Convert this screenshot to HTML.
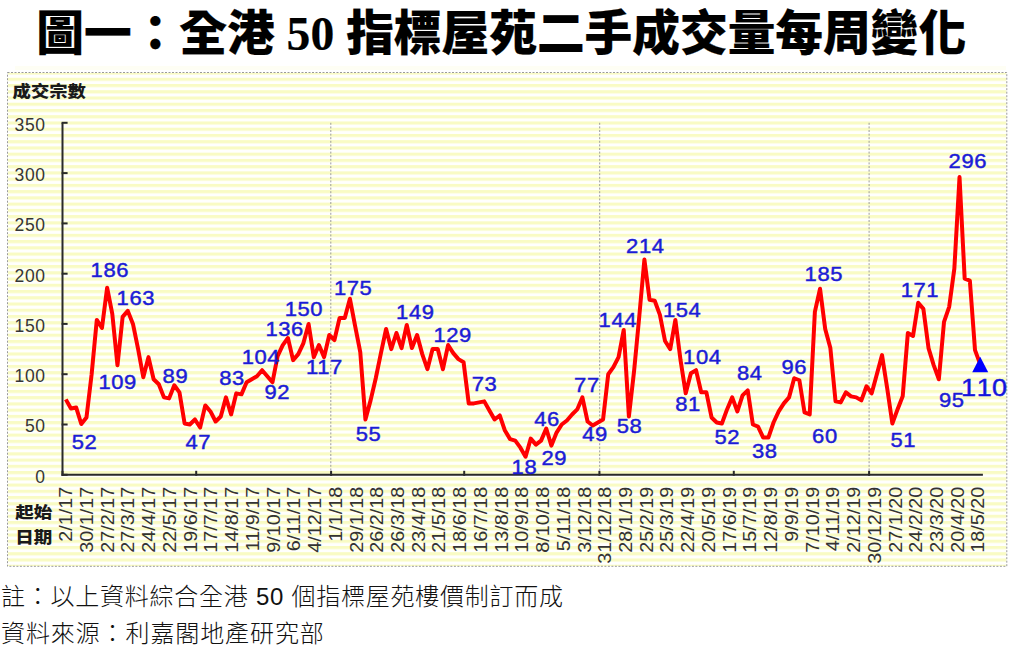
<!DOCTYPE html>
<html lang="zh-Hant"><head><meta charset="utf-8"><title>圖一：全港 50 指標屋苑二手成交量每周變化</title>
<style>
html,body{margin:0;padding:0;background:#fff;width:1024px;height:654px;overflow:hidden}
svg{display:block}
.num{font-family:'DejaVu Sans', 'Liberation Sans', sans-serif}
.lbl{font-family:'Liberation Sans',sans-serif;font-size:20.2px;letter-spacing:0.5px;fill:#1c1cd6;stroke:#1c1cd6;stroke-width:0.45px}
.cjk{font-family:'Liberation Sans', 'Noto Sans CJK TC', sans-serif}
.ttl{font-family:'Liberation Serif', 'Noto Sans CJK TC', sans-serif;font-weight:900}
</style></head><body>
<svg width="1024" height="654" viewBox="0 0 1024 654">
<defs>
<pattern id="st" patternUnits="userSpaceOnUse" x="0" y="77.74" width="16" height="6.243"><rect x="0" y="0" width="16" height="3.12" fill="#f9fbc4"/></pattern>
</defs>
<rect x="15" y="66" width="991" height="4" fill="#fefef4"/>
<rect x="7.5" y="72.5" width="999.3" height="493.8" fill="#fffffd"/>
<rect x="8" y="73" width="998.3" height="493" fill="url(#st)"/>
<rect x="7.5" y="72.5" width="999.3" height="493.8" fill="none" stroke="#9a9a9a" stroke-width="1" stroke-dasharray="2 1.5"/>
<text class="ttl" x="36.2" y="49.5" font-size="47.7" fill="#000" stroke="#000" stroke-width="0.2" stroke-linejoin="round">圖一：全港 50 指標屋苑二手成交量每周變化</text>
<text class="cjk" transform="translate(12.6,97.4) scale(1.03,0.92)" font-size="17.8" font-weight="900" fill="#1a1a1a">成交宗數</text>
<text x="45.6" y="482.6" font-family="Liberation Sans, sans-serif" font-size="17.5" letter-spacing="0.6" text-anchor="end" fill="#353535">0</text>
<text x="45.6" y="432.3" font-family="Liberation Sans, sans-serif" font-size="17.5" letter-spacing="0.6" text-anchor="end" fill="#353535">50</text>
<text x="45.6" y="382.0" font-family="Liberation Sans, sans-serif" font-size="17.5" letter-spacing="0.6" text-anchor="end" fill="#353535">100</text>
<text x="45.6" y="331.7" font-family="Liberation Sans, sans-serif" font-size="17.5" letter-spacing="0.6" text-anchor="end" fill="#353535">150</text>
<text x="45.6" y="281.5" font-family="Liberation Sans, sans-serif" font-size="17.5" letter-spacing="0.6" text-anchor="end" fill="#353535">200</text>
<text x="45.6" y="231.2" font-family="Liberation Sans, sans-serif" font-size="17.5" letter-spacing="0.6" text-anchor="end" fill="#353535">250</text>
<text x="45.6" y="180.9" font-family="Liberation Sans, sans-serif" font-size="17.5" letter-spacing="0.6" text-anchor="end" fill="#353535">300</text>
<text x="45.6" y="130.6" font-family="Liberation Sans, sans-serif" font-size="17.5" letter-spacing="0.6" text-anchor="end" fill="#353535">350</text>
<line x1="330.8" y1="122.8" x2="330.8" y2="474.8" stroke="#9c9c9c" stroke-width="1" stroke-dasharray="2 1.6"/>
<line x1="599.7" y1="122.8" x2="599.7" y2="474.8" stroke="#9c9c9c" stroke-width="1" stroke-dasharray="2 1.6"/>
<line x1="869.1" y1="122.8" x2="869.1" y2="474.8" stroke="#9c9c9c" stroke-width="1" stroke-dasharray="2 1.6"/>
<path d="M62.5 122.8 V474.8 H982.9" fill="none" stroke="#2a2a2a" stroke-width="2"/>
<line x1="61.6" y1="474.8" x2="67.6" y2="474.8" stroke="#2a2a2a" stroke-width="2"/>
<line x1="61.6" y1="424.5" x2="67.6" y2="424.5" stroke="#2a2a2a" stroke-width="2"/>
<line x1="61.6" y1="374.2" x2="67.6" y2="374.2" stroke="#2a2a2a" stroke-width="2"/>
<line x1="61.6" y1="323.9" x2="67.6" y2="323.9" stroke="#2a2a2a" stroke-width="2"/>
<line x1="61.6" y1="273.7" x2="67.6" y2="273.7" stroke="#2a2a2a" stroke-width="2"/>
<line x1="61.6" y1="223.4" x2="67.6" y2="223.4" stroke="#2a2a2a" stroke-width="2"/>
<line x1="61.6" y1="173.1" x2="67.6" y2="173.1" stroke="#2a2a2a" stroke-width="2"/>
<line x1="61.6" y1="122.8" x2="67.6" y2="122.8" stroke="#2a2a2a" stroke-width="2"/>
<line x1="62.5" y1="470.8" x2="62.5" y2="475.8" stroke="#2a2a2a" stroke-width="2"/>
<line x1="196.2" y1="470.8" x2="196.2" y2="475.8" stroke="#2a2a2a" stroke-width="2"/>
<line x1="331.1" y1="470.8" x2="331.1" y2="475.8" stroke="#2a2a2a" stroke-width="2"/>
<line x1="464.2" y1="470.8" x2="464.2" y2="475.8" stroke="#2a2a2a" stroke-width="2"/>
<line x1="599.4" y1="470.8" x2="599.4" y2="475.8" stroke="#2a2a2a" stroke-width="2"/>
<line x1="733.8" y1="470.8" x2="733.8" y2="475.8" stroke="#2a2a2a" stroke-width="2"/>
<line x1="869.1" y1="470.8" x2="869.1" y2="475.8" stroke="#2a2a2a" stroke-width="2"/>
<polyline points="65.80,399.37 70.97,408.42 76.13,407.42 81.30,424.01 86.46,417.47 91.63,374.23 96.80,319.92 101.96,327.97 107.13,287.74 112.29,313.89 117.46,365.18 122.63,316.90 127.79,310.87 132.96,323.94 138.12,349.09 143.29,377.25 148.46,357.13 153.62,379.26 158.79,384.29 163.95,397.36 169.12,398.37 174.29,385.29 179.45,392.33 184.62,423.51 189.78,424.51 194.95,419.49 200.12,427.53 205.28,405.41 210.45,411.44 215.61,421.50 220.78,416.47 225.95,397.36 231.11,414.46 236.28,393.34 241.44,394.34 246.61,382.27 251.78,379.26 256.94,376.24 262.11,370.21 267.27,376.24 272.44,382.27 277.61,356.13 282.77,345.06 287.94,338.02 293.10,360.15 298.27,354.11 303.44,343.05 308.60,323.94 313.77,357.13 318.93,345.06 324.10,357.13 329.27,335.01 334.43,340.03 339.60,317.91 344.76,317.91 349.93,298.80 355.10,325.95 360.26,352.10 365.43,419.49 370.59,400.38 375.76,378.25 380.93,353.11 386.09,328.97 391.26,349.09 396.42,332.99 401.59,348.08 406.76,324.95 411.92,348.08 417.09,335.01 422.25,354.11 427.42,369.20 432.59,349.09 437.75,349.09 442.92,369.20 448.08,345.06 453.25,353.11 458.42,359.14 463.58,362.16 468.75,403.39 473.91,403.39 479.08,402.39 484.25,401.38 489.41,410.43 494.58,419.49 499.74,415.46 504.91,430.55 510.08,439.10 515.24,440.61 520.41,447.65 525.57,456.70 530.74,438.59 535.91,444.63 541.07,440.61 546.24,428.54 551.40,445.63 556.57,432.56 561.74,424.51 566.90,420.49 572.07,414.46 577.23,409.43 582.40,397.36 587.57,421.50 592.73,425.52 597.90,422.50 603.06,419.49 608.23,374.23 613.40,367.19 618.56,357.13 623.73,329.98 628.89,416.47 634.06,371.21 639.23,316.90 644.39,259.58 649.56,299.81 654.72,300.81 659.89,314.89 665.06,341.04 670.22,349.09 675.39,319.92 680.55,360.15 685.72,393.34 690.89,373.22 696.05,370.21 701.22,392.33 706.38,392.33 711.55,417.47 716.72,422.50 721.88,423.51 727.05,409.43 732.21,397.36 737.38,411.44 742.55,395.35 747.71,390.32 752.88,424.51 758.04,426.53 763.21,437.59 768.38,437.59 773.54,422.50 778.71,411.44 783.87,403.39 789.04,397.36 794.21,378.25 799.37,380.26 804.54,412.45 809.70,414.46 814.87,311.87 820.04,288.74 825.20,328.97 830.37,348.08 835.53,401.38 840.70,402.39 845.87,392.33 851.03,396.35 856.20,397.36 861.36,400.38 866.53,386.30 871.70,393.34 876.86,374.23 882.03,355.12 887.19,388.31 892.36,423.51 897.53,409.43 902.69,396.35 907.86,332.99 913.02,336.01 918.19,302.82 923.36,308.86 928.52,348.08 933.69,365.18 938.85,379.26 944.02,321.93 949.19,306.85 954.35,268.63 959.52,177.11 964.68,278.69 969.85,280.70 975.02,350.09 980.18,364.17" fill="none" stroke="#ff0000" stroke-width="4" stroke-linejoin="round" stroke-linecap="butt"/>
<polygon points="972.2,372.2 980.2,356.7 988.2,372.2" fill="#0000ff"/>
<text class="lbl" transform="translate(90.60,276.50) scale(1.09,1)">186</text>
<text class="lbl" transform="translate(116.60,304.80) scale(1.09,1)">163</text>
<text class="lbl" transform="translate(98.40,389.20) scale(1.09,1)">109</text>
<text class="lbl" transform="translate(71.70,448.70) scale(1.09,1)">52</text>
<text class="lbl" transform="translate(162.60,383.40) scale(1.09,1)">89</text>
<text class="lbl" transform="translate(185.40,449.10) scale(1.09,1)">47</text>
<text class="lbl" transform="translate(219.20,384.50) scale(1.09,1)">83</text>
<text class="lbl" transform="translate(241.70,364.20) scale(1.09,1)">104</text>
<text class="lbl" transform="translate(264.40,399.20) scale(1.09,1)">92</text>
<text class="lbl" transform="translate(265.40,336.10) scale(1.09,1)">136</text>
<text class="lbl" transform="translate(284.70,315.70) scale(1.09,1)">150</text>
<text class="lbl" transform="translate(306.00,374.30) scale(1.09,1)">117</text>
<text class="lbl" transform="translate(334.00,295.00) scale(1.09,1)">175</text>
<text class="lbl" transform="translate(355.70,440.90) scale(1.09,1)">55</text>
<text class="lbl" transform="translate(396.10,319.20) scale(1.09,1)">149</text>
<text class="lbl" transform="translate(433.40,341.70) scale(1.09,1)">129</text>
<text class="lbl" transform="translate(471.70,391.30) scale(1.09,1)">73</text>
<text class="lbl" transform="translate(511.60,473.90) scale(1.09,1)">18</text>
<text class="lbl" transform="translate(534.30,426.00) scale(1.09,1)">46</text>
<text class="lbl" transform="translate(541.40,464.50) scale(1.09,1)">29</text>
<text class="lbl" transform="translate(574.10,392.00) scale(1.09,1)">77</text>
<text class="lbl" transform="translate(582.30,441.20) scale(1.09,1)">49</text>
<text class="lbl" transform="translate(616.70,433.10) scale(1.09,1)">58</text>
<text class="lbl" transform="translate(598.60,327.00) scale(1.09,1)">144</text>
<text class="lbl" transform="translate(626.10,252.60) scale(1.09,1)">214</text>
<text class="lbl" transform="translate(663.00,316.90) scale(1.09,1)">154</text>
<text class="lbl" transform="translate(683.10,364.30) scale(1.09,1)">104</text>
<text class="lbl" transform="translate(675.30,410.50) scale(1.09,1)">81</text>
<text class="lbl" transform="translate(737.00,379.90) scale(1.09,1)">84</text>
<text class="lbl" transform="translate(714.50,444.40) scale(1.09,1)">52</text>
<text class="lbl" transform="translate(751.90,457.70) scale(1.09,1)">38</text>
<text class="lbl" transform="translate(781.50,374.20) scale(1.09,1)">96</text>
<text class="lbl" transform="translate(812.10,443.40) scale(1.09,1)">60</text>
<text class="lbl" transform="translate(804.60,280.80) scale(1.09,1)">185</text>
<text class="lbl" transform="translate(890.50,446.90) scale(1.09,1)">51</text>
<text class="lbl" transform="translate(900.70,296.60) scale(1.09,1)">171</text>
<text class="lbl" transform="translate(938.90,407.20) scale(1.09,1)">95</text>
<text class="lbl" transform="translate(948.60,168.30) scale(1.09,1)">296</text>
<text transform="translate(962.6,395.6) scale(1.15,1)" x="-1.3 12.4 25.5" font-family="Liberation Sans, sans-serif" font-size="23.5" fill="#1414dc" stroke="#1414dc" stroke-width="0.45">110</text>
<text transform="translate(72.2,486.8) rotate(-90) scale(1.07,1)" text-anchor="end" font-family="Liberation Sans, sans-serif" font-size="18.5" fill="#333">2/1/17</text>
<text transform="translate(93.0,486.8) rotate(-90) scale(1.07,1)" text-anchor="end" font-family="Liberation Sans, sans-serif" font-size="18.5" fill="#333">30/1/17</text>
<text transform="translate(113.7,486.8) rotate(-90) scale(1.07,1)" text-anchor="end" font-family="Liberation Sans, sans-serif" font-size="18.5" fill="#333">27/2/17</text>
<text transform="translate(134.4,486.8) rotate(-90) scale(1.07,1)" text-anchor="end" font-family="Liberation Sans, sans-serif" font-size="18.5" fill="#333">27/3/17</text>
<text transform="translate(155.2,486.8) rotate(-90) scale(1.07,1)" text-anchor="end" font-family="Liberation Sans, sans-serif" font-size="18.5" fill="#333">24/4/17</text>
<text transform="translate(175.9,486.8) rotate(-90) scale(1.07,1)" text-anchor="end" font-family="Liberation Sans, sans-serif" font-size="18.5" fill="#333">22/5/17</text>
<text transform="translate(196.6,486.8) rotate(-90) scale(1.07,1)" text-anchor="end" font-family="Liberation Sans, sans-serif" font-size="18.5" fill="#333">19/6/17</text>
<text transform="translate(217.4,486.8) rotate(-90) scale(1.07,1)" text-anchor="end" font-family="Liberation Sans, sans-serif" font-size="18.5" fill="#333">17/7/17</text>
<text transform="translate(238.1,486.8) rotate(-90) scale(1.07,1)" text-anchor="end" font-family="Liberation Sans, sans-serif" font-size="18.5" fill="#333">14/8/17</text>
<text transform="translate(258.8,486.8) rotate(-90) scale(1.07,1)" text-anchor="end" font-family="Liberation Sans, sans-serif" font-size="18.5" fill="#333">11/9/17</text>
<text transform="translate(279.6,486.8) rotate(-90) scale(1.07,1)" text-anchor="end" font-family="Liberation Sans, sans-serif" font-size="18.5" fill="#333">9/10/17</text>
<text transform="translate(300.3,486.8) rotate(-90) scale(1.07,1)" text-anchor="end" font-family="Liberation Sans, sans-serif" font-size="18.5" fill="#333">6/11/17</text>
<text transform="translate(321.0,486.8) rotate(-90) scale(1.07,1)" text-anchor="end" font-family="Liberation Sans, sans-serif" font-size="18.5" fill="#333">4/12/17</text>
<text transform="translate(341.7,486.8) rotate(-90) scale(1.07,1)" text-anchor="end" font-family="Liberation Sans, sans-serif" font-size="18.5" fill="#333">1/1/18</text>
<text transform="translate(362.5,486.8) rotate(-90) scale(1.07,1)" text-anchor="end" font-family="Liberation Sans, sans-serif" font-size="18.5" fill="#333">29/1/18</text>
<text transform="translate(383.2,486.8) rotate(-90) scale(1.07,1)" text-anchor="end" font-family="Liberation Sans, sans-serif" font-size="18.5" fill="#333">26/2/18</text>
<text transform="translate(403.9,486.8) rotate(-90) scale(1.07,1)" text-anchor="end" font-family="Liberation Sans, sans-serif" font-size="18.5" fill="#333">26/3/18</text>
<text transform="translate(424.7,486.8) rotate(-90) scale(1.07,1)" text-anchor="end" font-family="Liberation Sans, sans-serif" font-size="18.5" fill="#333">23/4/18</text>
<text transform="translate(445.4,486.8) rotate(-90) scale(1.07,1)" text-anchor="end" font-family="Liberation Sans, sans-serif" font-size="18.5" fill="#333">21/5/18</text>
<text transform="translate(466.1,486.8) rotate(-90) scale(1.07,1)" text-anchor="end" font-family="Liberation Sans, sans-serif" font-size="18.5" fill="#333">18/6/18</text>
<text transform="translate(486.9,486.8) rotate(-90) scale(1.07,1)" text-anchor="end" font-family="Liberation Sans, sans-serif" font-size="18.5" fill="#333">16/7/18</text>
<text transform="translate(507.6,486.8) rotate(-90) scale(1.07,1)" text-anchor="end" font-family="Liberation Sans, sans-serif" font-size="18.5" fill="#333">13/8/18</text>
<text transform="translate(528.3,486.8) rotate(-90) scale(1.07,1)" text-anchor="end" font-family="Liberation Sans, sans-serif" font-size="18.5" fill="#333">10/9/18</text>
<text transform="translate(549.0,486.8) rotate(-90) scale(1.07,1)" text-anchor="end" font-family="Liberation Sans, sans-serif" font-size="18.5" fill="#333">8/10/18</text>
<text transform="translate(569.8,486.8) rotate(-90) scale(1.07,1)" text-anchor="end" font-family="Liberation Sans, sans-serif" font-size="18.5" fill="#333">5/11/18</text>
<text transform="translate(590.5,486.8) rotate(-90) scale(1.07,1)" text-anchor="end" font-family="Liberation Sans, sans-serif" font-size="18.5" fill="#333">3/12/18</text>
<text transform="translate(611.2,486.8) rotate(-90) scale(1.07,1)" text-anchor="end" font-family="Liberation Sans, sans-serif" font-size="18.5" fill="#333">31/12/18</text>
<text transform="translate(632.0,486.8) rotate(-90) scale(1.07,1)" text-anchor="end" font-family="Liberation Sans, sans-serif" font-size="18.5" fill="#333">28/1/19</text>
<text transform="translate(652.7,486.8) rotate(-90) scale(1.07,1)" text-anchor="end" font-family="Liberation Sans, sans-serif" font-size="18.5" fill="#333">25/2/19</text>
<text transform="translate(673.4,486.8) rotate(-90) scale(1.07,1)" text-anchor="end" font-family="Liberation Sans, sans-serif" font-size="18.5" fill="#333">25/3/19</text>
<text transform="translate(694.1,486.8) rotate(-90) scale(1.07,1)" text-anchor="end" font-family="Liberation Sans, sans-serif" font-size="18.5" fill="#333">22/4/19</text>
<text transform="translate(714.9,486.8) rotate(-90) scale(1.07,1)" text-anchor="end" font-family="Liberation Sans, sans-serif" font-size="18.5" fill="#333">20/5/19</text>
<text transform="translate(735.6,486.8) rotate(-90) scale(1.07,1)" text-anchor="end" font-family="Liberation Sans, sans-serif" font-size="18.5" fill="#333">17/6/19</text>
<text transform="translate(756.3,486.8) rotate(-90) scale(1.07,1)" text-anchor="end" font-family="Liberation Sans, sans-serif" font-size="18.5" fill="#333">15/7/19</text>
<text transform="translate(777.1,486.8) rotate(-90) scale(1.07,1)" text-anchor="end" font-family="Liberation Sans, sans-serif" font-size="18.5" fill="#333">12/8/19</text>
<text transform="translate(797.8,486.8) rotate(-90) scale(1.07,1)" text-anchor="end" font-family="Liberation Sans, sans-serif" font-size="18.5" fill="#333">9/9/19</text>
<text transform="translate(818.5,486.8) rotate(-90) scale(1.07,1)" text-anchor="end" font-family="Liberation Sans, sans-serif" font-size="18.5" fill="#333">7/10/19</text>
<text transform="translate(839.3,486.8) rotate(-90) scale(1.07,1)" text-anchor="end" font-family="Liberation Sans, sans-serif" font-size="18.5" fill="#333">4/11/19</text>
<text transform="translate(860.0,486.8) rotate(-90) scale(1.07,1)" text-anchor="end" font-family="Liberation Sans, sans-serif" font-size="18.5" fill="#333">2/12/19</text>
<text transform="translate(880.7,486.8) rotate(-90) scale(1.07,1)" text-anchor="end" font-family="Liberation Sans, sans-serif" font-size="18.5" fill="#333">30/12/19</text>
<text transform="translate(901.5,486.8) rotate(-90) scale(1.07,1)" text-anchor="end" font-family="Liberation Sans, sans-serif" font-size="18.5" fill="#333">27/1/20</text>
<text transform="translate(922.2,486.8) rotate(-90) scale(1.07,1)" text-anchor="end" font-family="Liberation Sans, sans-serif" font-size="18.5" fill="#333">24/2/20</text>
<text transform="translate(942.9,486.8) rotate(-90) scale(1.07,1)" text-anchor="end" font-family="Liberation Sans, sans-serif" font-size="18.5" fill="#333">23/3/20</text>
<text transform="translate(963.6,486.8) rotate(-90) scale(1.07,1)" text-anchor="end" font-family="Liberation Sans, sans-serif" font-size="18.5" fill="#333">20/4/20</text>
<text transform="translate(984.4,486.8) rotate(-90) scale(1.07,1)" text-anchor="end" font-family="Liberation Sans, sans-serif" font-size="18.5" fill="#333">18/5/20</text>
<text class="cjk" transform="translate(15.2,518.3) scale(1.03,0.9)" font-size="18" font-weight="900" fill="#1a1a1a">起始</text>
<text class="cjk" transform="translate(15.2,543.0) scale(1.03,0.9)" font-size="18" font-weight="900" fill="#1a1a1a">日期</text>
<text class="cjk" x="1" y="605" font-size="24" font-weight="300" letter-spacing="0.75" fill="#111">註：以上資料綜合全港 50 個指標屋苑樓價制訂而成</text>
<text class="cjk" x="1" y="642" font-size="24" font-weight="300" letter-spacing="0.9" fill="#111">資料來源：利嘉閣地產研究部</text>
</svg>
</body></html>
